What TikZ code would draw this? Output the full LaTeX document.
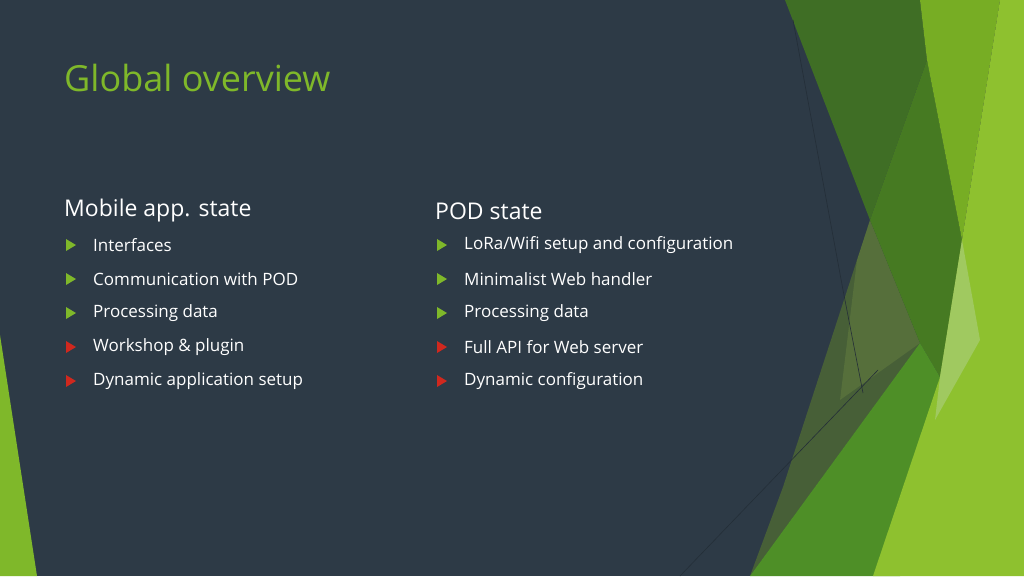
\documentclass[tikz,border=0pt]{standalone}
\usepackage{fontspec}
\setmainfont{Open Sans}
\definecolor{bg}{HTML}{2D3A46}
\definecolor{ttl}{HTML}{7FB82A}
\definecolor{gA}{HTML}{3F6E25}
\definecolor{gB}{HTML}{467A22}
\definecolor{gC}{HTML}{77AD24}
\definecolor{gD}{HTML}{8EC12F}
\definecolor{gE}{HTML}{A0C960}
\definecolor{olA}{HTML}{566F3B}
\definecolor{olB}{HTML}{475F37}
\definecolor{gF}{HTML}{4E8F27}
\definecolor{bred}{HTML}{D0281E}
\begin{document}
\begin{tikzpicture}[x=1pt,y=-1pt,
  btxt/.style={anchor=west,text=white,font=\fontsize{17}{20}\selectfont,inner sep=0},
  head/.style={anchor=west,text=white,font=\fontsize{23}{26}\selectfont,inner sep=0},
  gb/.style={fill=ttl},rb/.style={fill=bred}]
\fill[bg] (0,0) rectangle (1024,576);
\useasboundingbox (0,0) rectangle (1024,576);
% left wedge
\fill[ttl] (0,335) -- (37,576) -- (0,576) -- cycle;
% right shapes
\fill[olB] (857,260) -- (920,343) -- (750,576) -- (783,487) -- cycle;
\fill[olA] (870,220) -- (920,343) -- (840,400) -- (857,260) -- cycle;
\fill[gA] (785,0) -- (920,0) -- (927,60) -- (870,220) -- cycle;
\fill[gB] (927,60) -- (962,240) -- (940,377) -- (920,343) -- (870,220) -- cycle;
\fill[gC] (920,0) -- (1000,0) -- (962,240) -- (927,60) -- cycle;
\fill[gF] (750,576) -- (920,343) -- (940,377) -- (900,576) -- cycle;
\fill[gD] (1000,0) -- (1024,0) -- (1024,576) -- (873,576) -- (940,377) -- (962,240) -- cycle;
\fill[gE] (962,240) -- (980,340) -- (935,420) -- (940,377) -- cycle;
\draw[bg!80!black,line width=0.6] (793,20) -- (843,290) -- (863,393);
\draw[bg!80!black,line width=0.6] (680,576) -- (878,370);
% title
\node[anchor=west,text=ttl,font=\fontsize{36}{40}\selectfont,inner sep=0] (title) at (64,78) {Global overview};
% columns
\node[head] (h1) at (64,211) {Mobile app. state};
\node[head] (h2) at (435,211) {POD state};
\foreach \t/\c [count=\i] in {Interfaces/gb,Communication with POD/gb,Processing data/gb,Workshop \& plugin/rb,Dynamic application setup/rb}{
  \fill[\c] (66,{245+34*(\i-1)-6}) -- (76,{245+34*(\i-1)}) -- (66,{245+34*(\i-1)+6}) -- cycle;
  \node[btxt] (l\i) at (93,{245+34*(\i-1)}) {\t};
}
\foreach \t/\c [count=\i] in {{LoRa/Wifi setup and configuration}/gb,Minimalist Web handler/gb,Processing data/gb,Full API for Web server/rb,Dynamic configuration/rb}{
  \fill[\c] (437,{245+34*(\i-1)-6}) -- (447,{245+34*(\i-1)}) -- (437,{245+34*(\i-1)+6}) -- cycle;
  \node[btxt] (r\i) at (464,{245+34*(\i-1)}) {\t};
}
\end{tikzpicture}
\end{document}
